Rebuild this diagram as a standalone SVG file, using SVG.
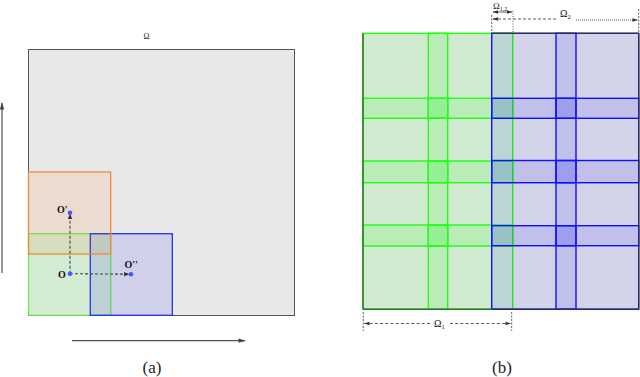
<svg xmlns="http://www.w3.org/2000/svg" width="640" height="377" viewBox="0 0 640 377">
<style>
.lbl{font-family:"Liberation Serif",serif;fill:#111}
.cap{font-family:"Liberation Serif",serif;font-size:17px;fill:#222}
.g{fill:#00ff00;fill-opacity:0.1;stroke:#22ff11;stroke-width:1.4}
.b{fill:#0000ff;fill-opacity:0.09;stroke:#1010ff;stroke-width:1.4}
.dash{stroke:#444;stroke-width:1.1;stroke-dasharray:3,2;fill:none}
.dim{stroke:#333;stroke-width:0.8;fill:none}
.dot{fill:#4a55ff}
</style>
<defs>
<marker id="ah" viewBox="0 0 10 10" refX="9" refY="5" markerWidth="5" markerHeight="5" orient="auto-start-reverse">
<path d="M0,1 L10,5 L0,9 z" fill="#333"/>
</marker>
<marker id="ahs" viewBox="0 0 10 10" refX="9" refY="5" markerWidth="7" markerHeight="7" orient="auto-start-reverse">
<path d="M0,2 L10,5 L0,8 z" fill="#333"/>
</marker>
<marker id="big" viewBox="0 0 10 10" refX="9" refY="5" markerWidth="8" markerHeight="6" orient="auto-start-reverse">
<path d="M0,2 L10,5 L0,8 z" fill="#444"/>
</marker>
</defs>

<!-- Panel (a) -->
<g id="panel-a">
<g id="omega-domain">
<rect x="28.5" y="49.5" width="266" height="266" fill="#e8e8e8" stroke="#555" stroke-width="1"/>
<text class="lbl" x="146.5" y="39" font-size="8" text-anchor="middle">Ω</text>
</g>
<g id="green-patch-a">
<rect x="28.5" y="233.7" width="82.2" height="81.6" fill="#00ff00" fill-opacity="0.09" stroke="#66ee44" stroke-width="1.2"/>
</g>
<g id="blue-patch-a">
<rect x="90.3" y="233.7" width="82" height="81.6" fill="#0000ff" fill-opacity="0.1" stroke="#2233ee" stroke-width="1.3"/>
</g>
<g id="orange-patch-a">
<rect x="28.5" y="172" width="82.2" height="82" fill="#ff7a00" fill-opacity="0.1" stroke="#f08a3c" stroke-width="1.3"/>
</g>
<g id="connectors-a">
<line class="dash" x1="70" y1="273.7" x2="70" y2="214" marker-end="url(#ah)"/>
<line class="dash" x1="70" y1="273.7" x2="129" y2="274.2" marker-end="url(#ah)"/>
<line x1="2" y1="273" x2="2" y2="103" stroke="#555" stroke-width="1.2" marker-end="url(#big)"/>
<line x1="72" y1="340.7" x2="245" y2="340.7" stroke="#555" stroke-width="1.2" marker-end="url(#big)"/>
</g>
<g id="point-O1">
<circle class="dot" cx="70" cy="212.7" r="2.3"/>
<text class="lbl" x="57" y="213" font-size="10" font-weight="bold">O'</text>
</g>
<g id="point-O">
<circle class="dot" cx="70" cy="273.7" r="2.3"/>
<text class="lbl" x="58" y="278" font-size="10" font-weight="bold">O</text>
</g>
<g id="point-O2">
<circle class="dot" cx="131" cy="274.3" r="2.3"/>
<text class="lbl" x="124.5" y="268" font-size="10" font-weight="bold">O''</text>
</g>
<text class="cap" x="152" y="373" text-anchor="middle">(a)</text>
</g>

<!-- Panel (b) -->
<g id="panel-b">
<rect x="363" y="33.3" width="275.7" height="276" fill="#e8e8e8"/>
<g id="omega1-patches">
<rect class="g" x="363" y="33.3" width="84.7" height="85"/>
<rect class="g" x="428.3" y="33.3" width="84.4" height="85"/>
<rect class="g" x="363" y="98.3" width="84.7" height="84.4"/>
<rect class="g" x="428.3" y="98.3" width="84.4" height="84.4"/>
<rect class="g" x="363" y="161" width="84.7" height="85"/>
<rect class="g" x="428.3" y="161" width="84.4" height="85"/>
<rect class="g" x="363" y="225" width="84.7" height="84.3"/>
<rect class="g" x="428.3" y="225" width="84.4" height="84.3"/>
</g>
<g id="omega2-patches">
<rect class="b" x="491.7" y="33.3" width="84.3" height="85"/>
<rect class="b" x="556" y="33.3" width="82.7" height="85"/>
<rect class="b" x="491.7" y="98.3" width="84.3" height="84.4"/>
<rect class="b" x="556" y="98.3" width="82.7" height="84.4"/>
<rect class="b" x="491.7" y="160.5" width="84.3" height="85.2"/>
<rect class="b" x="556" y="160.5" width="82.7" height="85.2"/>
<rect class="b" x="491.7" y="225.7" width="84.3" height="83.6"/>
<rect class="b" x="556" y="225.7" width="82.7" height="83.6"/>
</g>
<g id="border-b">
<line x1="492" y1="33.3" x2="639" y2="33.3" stroke="#333" stroke-width="1.3"/>
<line x1="638.7" y1="33.3" x2="638.7" y2="309.3" stroke="#333" stroke-width="1.3"/>
<line x1="363" y1="309.3" x2="492" y2="309.3" stroke="#2f6a2f" stroke-width="1.4"/>
<line x1="492" y1="309.3" x2="639" y2="309.3" stroke="#2a2a70" stroke-width="1.4"/>
<line x1="363" y1="33.3" x2="363" y2="309.3" stroke="#2f6a2f" stroke-width="1.4"/>
</g>
<g id="connectors-b">
<line class="dim" x1="493" y1="12" x2="512" y2="12" marker-start="url(#ahs)" marker-end="url(#ahs)"/>
<line class="dim" x1="513" y1="11" x2="513" y2="33" stroke-dasharray="1,1.5"/>
<line class="dim" x1="491.7" y1="15" x2="491.7" y2="33" stroke-dasharray="2,1.5"/>
<line class="dim" x1="638.7" y1="9" x2="638.7" y2="33" stroke-dasharray="2,1.5"/>
<line class="dim" x1="493" y1="19" x2="556" y2="19" stroke-dasharray="3,2" marker-start="url(#ahs)"/>
<line class="dim" x1="576" y1="20" x2="637.5" y2="20" stroke-dasharray="1,1" marker-end="url(#ahs)"/>
<line class="dim" x1="363.3" y1="312" x2="363.3" y2="331" stroke-dasharray="2,1.5"/>
<line class="dim" x1="511.7" y1="312" x2="511.7" y2="331" stroke-dasharray="2,1.5"/>
<line class="dim" x1="364.5" y1="323.5" x2="430" y2="323.5" stroke-dasharray="3,2.2" marker-start="url(#ahs)"/>
<line class="dim" x1="450" y1="323.5" x2="510.5" y2="323.5" stroke-dasharray="3,2.2" marker-end="url(#ahs)"/>
</g>
<g id="labels-b">
<text class="lbl" x="493" y="9" font-size="9">Ω<tspan font-size="6" dy="2">1,2</tspan></text>
<text class="lbl" x="560" y="17" font-size="10">Ω<tspan font-size="6.5" dy="2">2</tspan></text>
<text class="lbl" x="434" y="327" font-size="10">Ω<tspan font-size="6.5" dy="2">1</tspan></text>
</g>
<text class="cap" x="502" y="373" text-anchor="middle">(b)</text>
</g>
</svg>
